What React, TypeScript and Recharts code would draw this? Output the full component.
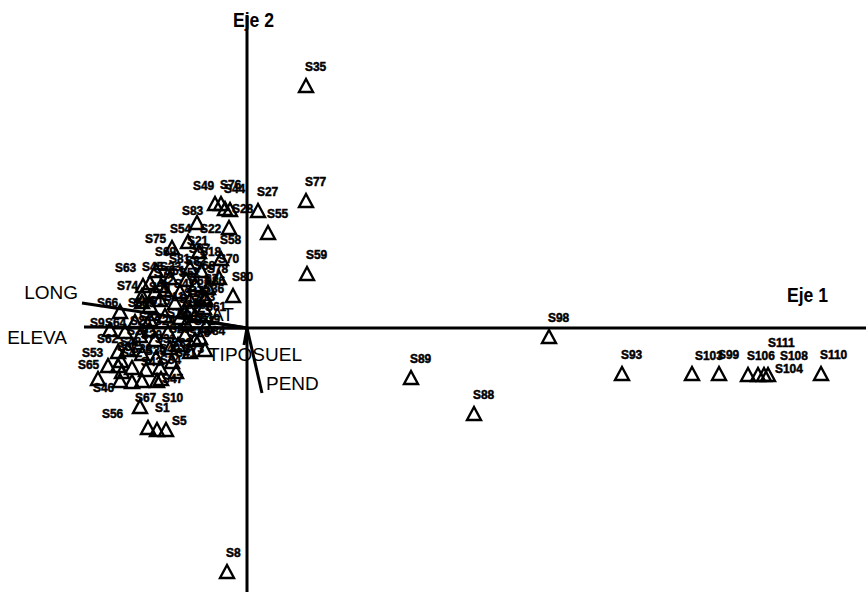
import React from 'react';
import { ScatterChart, Scatter, XAxis, YAxis, ReferenceLine } from 'recharts';

// site scores (axis 1, axis 2)
const siteNames = [
  'S35', 'S77', 'S59', 'S55', 'S27', 'S98', 'S89', 'S88', 'S93', 'S103', 'S99', 'S106', 'S111', 'S108', 'S104', 'S110', 'S8',
  'S49', 'S76', 'S44', 'S28', 'S83', 'S22', 'S54', 'S21', 'S75', 'S58', 'S69', 'S18', 'S70', 'S63', 'S45', 'S33', 'S78',
  'S80', 'S74', 'S36', 'S66', 'S57', 'S60', 'S61', 'S9', 'S64', 'S20', 'S62', 'S48', 'S73', 'S53', 'S34', 'S65', 'S46',
  'S56', 'S47', 'S67', 'S1', 'S10', 'S5',
  'S2', 'S4', 'S6', 'S7', 'S11', 'S12', 'S13', 'S14', 'S15', 'S16', 'S17', 'S19', 'S23', 'S24', 'S25', 'S26', 'S29',
  'S30', 'S31', 'S32', 'S37', 'S38', 'S39', 'S40', 'S41', 'S42', 'S43', 'S50', 'S51', 'S52', 'S68', 'S71', 'S72', 'S79',
  'S81', 'S82', 'S84', 'S85', 'S86', 'S87',
];
const siteX = [
  0.59, 0.59, 0.60, 0.21, 0.11, 3.02, 1.64, 2.27, 3.75, 4.45, 4.72, 5.01, 5.11, 5.17, 5.21, 5.74, -0.20,
  -0.32, -0.26, -0.22, -0.17, -0.50, -0.18, -0.59, -0.48, -0.75, -0.26, -0.91, -0.46, -0.28, -0.97, -1.04, -0.86, -0.39,
  -0.14, -1.05, -0.43, -1.27, -1.05, -0.61, -0.41, -1.37, -1.22, -0.97, -1.29, -1.26, -0.69, -1.39, -0.86, -1.49, -1.27,
  -1.15, -0.90, -1.07, -0.99, -0.90, -0.81,
  -0.87, -0.72, -0.57, -0.42, -0.82, -0.67, -0.52, -0.62, -0.97, -0.79, -0.62, -0.47, -1.07, -0.92, -0.77, -0.57, -1.19,
  -1.05, -0.91, -0.75, -1.29, -1.15, -1.01, -0.87, -0.71, -1.25, -1.05, -0.97, -0.82, -0.67, -0.52, -0.52, -0.57, -0.92,
  -0.77, -0.61, -0.42, -1.12, -0.42, -0.57,
];
const siteY = [
  2.42, 1.27, 0.54, 0.95, 1.17, -0.09, -0.50, -0.86, -0.46, -0.46, -0.46, -0.47, -0.47, -0.47, -0.47, -0.46, -2.44,
  1.24, 1.24, 1.19, 1.18, 1.05, 1.00, 0.86, 0.76, 0.80, 0.69, 0.57, 0.57, 0.50, 0.45, 0.42, 0.42, 0.40,
  0.32, 0.32, 0.20, 0.16, 0.26, 0.04, 0.02, -0.02, -0.04, -0.02, -0.24, -0.33, -0.17, -0.38, -0.51, -0.51, -0.53,
  -0.54, -0.53, -0.79, -1.00, -1.02, -1.02,
  0.28, 0.25, 0.28, 0.30, 0.12, 0.10, 0.12, 0.16, 0.08, -0.04, -0.07, -0.10, -0.08, -0.12, -0.20, -0.24, -0.22,
  -0.26, -0.30, -0.34, -0.38, -0.40, -0.42, -0.40, -0.44, -0.44, -0.53, 0.22, 0.38, 0.36, 0.43, -0.12, 0.18, 0.36,
  0.50, 0.48, -0.22, 0.06, 0.28, 0.60,
];

// variable vectors (biplot arrows from the origin)
const varNames = ['LONG', 'ELEVA', 'AT', 'TIPOSUEL', 'PEND'];
const varX = [-1.65, -1.63, -0.42, -0.03, 0.15];
const varY = [0.25, 0.01, 0.07, -0.17, -0.65];

const sites = siteNames.map((name, i) => ({ name, x: siteX[i], y: siteY[i] }));
const vectors = varNames.map((name, i) => ({ name, x: varX[i], y: varY[i] }));

// where each site label sits relative to its triangle (pixels)
const labelShift: Record<string, [number, number]> = {
  S49: [-22, -14], S44: [-1, -16], S28: [2, 3], S83: [-15, -8], S22: [-29, 5], S54: [-18, -9], S21: [-12, -7],
  S75: [-27, -5], S63: [-35, -11], S74: [-25, -6], S66: [-23, -5], S57: [-14, 5], S9: [-20, -3], S64: [-20, -5],
  S20: [-20, -5], S62: [-21, -9], S73: [5, 8], S53: [-26, -9], S65: [-20, -10], S46: [-27, 11], S56: [-30, 36],
  S47: [5, 2], S67: [-5, -5], S1: [7, -16], S10: [5, -28], S5: [6, -5],
  S111: [10, -28], S108: [16, -15], S104: [7, -2], S103: [3, -14],
};
const varShift: Record<string, [number, number, string]> = {
  LONG: [-4, -4, 'end'], ELEVA: [-17, 17, 'end'], AT: [6, 0, 'start'], TIPOSUEL: [-36, 16, 'start'], PEND: [4, -3, 'start'],
};

const SiteShape = (props: any) => {
  const { cx, cy, payload } = props;
  const [dx, dy] = labelShift[payload.name] || [-1, -15];
  return (
    <g>
      <path d={`M${cx},${cy - 7} L${cx - 7},${cy + 6} L${cx + 7},${cy + 6} Z`} fill="none" stroke="#000" strokeWidth={2.4} />
      <text
        x={cx + dx} y={cy + dy}
        fontFamily="Arial, sans-serif" fontWeight="bold" fontSize={13}
        fill="#000" stroke="#000" strokeWidth={0.5}
        transform={`translate(${cx + dx} 0) scale(0.92 1) translate(${-(cx + dx)} 0)`}
      >
        {payload.name}
      </text>
    </g>
  );
};

const VarLabel = (props: any) => {
  const { cx, cy, payload } = props;
  const [dx, dy, anchor] = varShift[payload.name];
  return (
    <text x={cx + dx} y={cy + dy} textAnchor={anchor} fontFamily="Arial, sans-serif" fontSize={19} fill="#000">{payload.name}</text>
  );
};

export default function App() {
  return (
    <div style={{ position: 'absolute', left: 0, top: 0, width: 866, height: 592, background: '#fff' }}>
      <ScatterChart width={866} height={592} margin={{ top: 0, right: 0, bottom: 0, left: 0 }}>
        <XAxis type="number" dataKey="x" domain={[-2.47, 6.19]} hide allowDataOverflow />
        <YAxis type="number" dataKey="y" domain={[-2.64, 3.28]} hide allowDataOverflow />
        <ReferenceLine segment={[{ x: 0, y: 3.13 }, { x: 0, y: -2.64 }]} stroke="#000" strokeWidth={3} />
        <ReferenceLine segment={[{ x: -1.35, y: 0 }, { x: 6.19, y: 0 }]} stroke="#000" strokeWidth={3} />
        {vectors.map((v) => (
          <ReferenceLine key={v.name} segment={[{ x: 0, y: 0 }, { x: v.x, y: v.y }]} stroke="#000" strokeWidth={3} />
        ))}
        <Scatter data={sites} shape={SiteShape} isAnimationActive={false} />
        <Scatter data={vectors} shape={VarLabel} isAnimationActive={false} />
      </ScatterChart>
      <svg width={866} height={592} style={{ position: 'absolute', left: 0, top: 0, pointerEvents: 'none' }}>
        <text x={233} y={27} fontFamily="Arial, sans-serif" fontWeight="bold" fontSize={20} fill="#000"
          transform="translate(233 0) scale(0.88 1) translate(-233 0)">Eje 2</text>
        <text x={787} y={302} fontFamily="Arial, sans-serif" fontWeight="bold" fontSize={20} fill="#000"
          transform="translate(787 0) scale(0.88 1) translate(-787 0)">Eje 1</text>
      </svg>
    </div>
  );
}
